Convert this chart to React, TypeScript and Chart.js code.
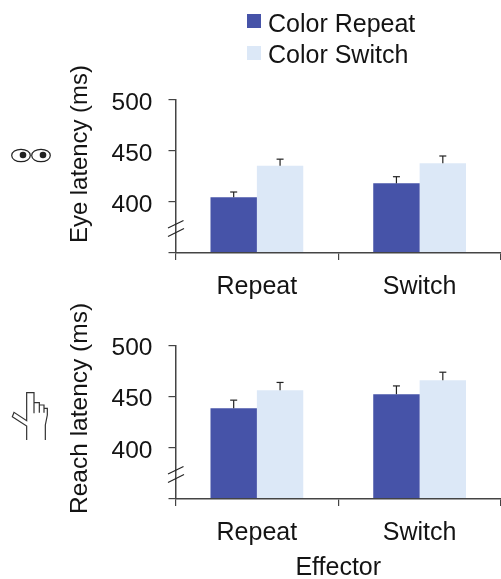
import React, { useEffect, useRef } from "react";
import { Chart, registerables } from "chart.js";

Chart.register(...registerables);

const categories = ["Repeat", "Switch"];
const seriesNames = ["Color Repeat", "Color Switch"];
const seriesColors = ["#4653a8", "#dce8f7"];
const eyeRepeat = [404.6, 418.3];
const eyeSwitch = [435.6, 437.9];
const eyeRepeatTop = [409.8, 424.8];
const eyeSwitchTop = [442, 445.1];
const reachRepeat = [438.8, 452.4];
const reachSwitch = [456.3, 466];
const reachRepeatTop = [446.6, 460.5];
const reachSwitchTop = [463.9, 473.9];
const axisMin = 350;
const axisMax = 500;
const yTicks = [350, 400, 450, 500];

const FONT = '"Liberation Sans", Arial, sans-serif';
const INK = "#141414";
const AXIS = "#444444";

const line = (ctx: CanvasRenderingContext2D, pts: number[][]) => {
  ctx.beginPath();
  pts.forEach(([x, y], i) => (i ? ctx.lineTo(x, y) : ctx.moveTo(x, y)));
  ctx.stroke();
};

const errorBars = (tops: number[][]) => ({
  id: "errorBars",
  afterDatasetsDraw(chart: any) {
    const { ctx } = chart;
    const y = chart.scales.y;
    ctx.save();
    ctx.strokeStyle = "#222";
    ctx.lineWidth = 1.2;
    tops.forEach((arr, d) => {
      const meta = chart.getDatasetMeta(d);
      arr.forEach((v, i) => {
        const bar = meta.data[i];
        const py = y.getPixelForValue(v);
        line(ctx, [[bar.x, bar.y], [bar.x, py]]);
        line(ctx, [[bar.x - 3.5, py], [bar.x + 3.5, py]]);
      });
    });
    ctx.restore();
  },
});

const axisBreak = {
  id: "axisBreak",
  afterDraw(chart: any) {
    const { ctx, chartArea } = chart;
    const b = chartArea.bottom;
    ctx.save();
    ctx.strokeStyle = "#222";
    ctx.lineWidth = 1.1;
    line(ctx, [[168, b - 25], [183.5, b - 32.5]]);
    line(ctx, [[168, b - 16.5], [184, b - 24.5]]);
    ctx.restore();
  },
};

const yAxisTitle = (text: string, baselineX: number, startY: number, stretch: number) => ({
  id: "yAxisTitle",
  afterDraw(chart: any) {
    const { ctx } = chart;
    ctx.save();
    ctx.translate(baselineX, startY);
    ctx.rotate(-Math.PI / 2);
    ctx.scale(stretch, 1);
    ctx.font = `24.5px ${FONT}`;
    ctx.fillStyle = INK;
    ctx.textAlign = "left";
    ctx.textBaseline = "alphabetic";
    ctx.fillText(text, 0, 0);
    ctx.restore();
  },
});

const legendPlugin = {
  id: "sideLegend",
  afterDraw(chart: any) {
    const { ctx } = chart;
    ctx.save();
    ctx.font = `25px ${FONT}`;
    ctx.textBaseline = "alphabetic";
    ctx.textAlign = "left";
    chart.data.datasets.forEach((ds: any, i: number) => {
      ctx.fillStyle = ds.backgroundColor;
      ctx.fillRect(247, 14 + i * 32, 14, 14);
      ctx.fillStyle = INK;
      ctx.fillText(ds.label, 268, 32 + i * 31);
    });
    ctx.restore();
  },
};

const eyesIcon = {
  id: "eyesIcon",
  afterDraw(chart: any) {
    const { ctx } = chart;
    ctx.save();
    ctx.strokeStyle = "#222";
    ctx.fillStyle = "#222";
    ctx.lineWidth = 1.2;
    [21, 41].forEach((cx) => {
      ctx.beginPath();
      ctx.ellipse(cx, 155.5, 9.3, 6.2, 0, 0, Math.PI * 2);
      ctx.stroke();
      ctx.beginPath();
      ctx.arc(cx + 2, 155, 3.3, 0, Math.PI * 2);
      ctx.fill();
    });
    ctx.restore();
  },
};

const handIcon = {
  id: "handIcon",
  afterDraw(chart: any) {
    const { ctx } = chart;
    const top = 380 - 290;
    const p = (pts: number[][]) => pts.map(([x, y]) => [x / 3, y / 3 + top]);
    ctx.save();
    ctx.strokeStyle = "#333";
    ctx.lineWidth = 1.2;
    line(ctx, p([[80, 180], [80, 138], [37, 110], [42, 97], [80, 122], [80, 38], [102, 38], [102, 100]]));
    line(ctx, p([[102, 68], [118, 68], [118, 98]]));
    line(ctx, p([[118, 75], [132, 75], [132, 98]]));
    line(ctx, p([[132, 85], [142, 85], [142, 105], [136, 135], [136, 180]]));
    ctx.restore();
  },
};

const makeChart = (
  canvas: HTMLCanvasElement,
  a: number[],
  b: number[],
  padTop: number,
  xHeight: number,
  xTitle: string | null,
  plugins: any[]
) =>
  new Chart(canvas, {
    type: "bar",
    data: {
      labels: categories,
      datasets: [
        { label: seriesNames[0], data: a, backgroundColor: seriesColors[0], borderWidth: 0 },
        { label: seriesNames[1], data: b, backgroundColor: seriesColors[1], borderWidth: 0 },
      ],
    },
    plugins,
    options: {
      animation: false,
      responsive: false,
      devicePixelRatio: 1,
      layout: { padding: { top: padTop, left: 0, right: 0, bottom: 0 } },
      datasets: { bar: { categoryPercentage: 0.57, barPercentage: 1 } },
      plugins: { legend: { display: false }, tooltip: { enabled: false } },
      scales: {
        x: {
          afterFit: (s: any) => { s.height = xHeight; },
          grid: { offset: true, drawOnChartArea: false, tickLength: 7, color: AXIS, lineWidth: 1.2, z: 1 },
          border: { color: AXIS, width: 1.5, z: 1 },
          ticks: { color: INK, padding: 12, font: { family: FONT, size: 25 }, maxRotation: 0 },
          title: xTitle
            ? { display: true, text: xTitle, color: INK, font: { family: FONT, size: 25, lineHeight: 1 }, padding: { top: 0, bottom: 0 } }
            : { display: false },
        },
        y: {
          min: axisMin,
          max: axisMax,
          afterFit: (s: any) => { s.width = 175.5; },
          afterBuildTicks: (s: any) => {
            s.ticks = yTicks.map((value) => ({ value }));
            if (!s.__shifted) {
              s.__shifted = true;
              const orig = s._computeLabelItems.bind(s);
              s._computeLabelItems = (area: any) =>
                orig(area).map((it: any) => ({
                  ...it,
                  options: {
                    ...it.options,
                    translation: [it.options.translation[0], it.options.translation[1] + 3],
                  },
                }));
            }
          },
          grid: { drawOnChartArea: false, tickLength: 7, color: AXIS, lineWidth: 1.2, z: 1 },
          border: { color: AXIS, width: 1.5, z: 1 },
          ticks: {
            color: INK,
            padding: 16,
            font: { family: FONT, size: 24.5 },
            callback: (v: any) => (v === axisMin ? "" : String(v)),
          },
        },
      },
    },
  } as any);

export default function App() {
  const topRef = useRef<HTMLCanvasElement>(null);
  const bottomRef = useRef<HTMLCanvasElement>(null);
  useEffect(() => {
    const c1 = makeChart(topRef.current!, eyeRepeat, eyeSwitch, 100, 57, null, [
      errorBars([eyeRepeatTop, eyeSwitchTop]),
      axisBreak,
      yAxisTitle("Eye latency (ms)", 86.7, 243, 0.975),
      legendPlugin,
      eyesIcon,
    ]);
    const c2 = makeChart(bottomRef.current!, reachRepeat, reachSwitch, 55.5, 82, "Effector", [
      errorBars([reachRepeatTop, reachSwitchTop]),
      axisBreak,
      yAxisTitle("Reach latency (ms)", 86.7, 514 - 290, 1),
      handIcon,
    ]);
    return () => {
      c1.destroy();
      c2.destroy();
    };
  }, []);
  return (
    <div style={{ position: "absolute", left: 0, top: 0, width: 501, height: 579, background: "#fff", overflow: "hidden" }}>
      <canvas ref={topRef} width={501} height={310} style={{ position: "absolute", left: 0, top: 0, display: "block" }} />
      <canvas ref={bottomRef} width={501} height={291} style={{ position: "absolute", left: 0, top: 290, display: "block" }} />
    </div>
  );
}
